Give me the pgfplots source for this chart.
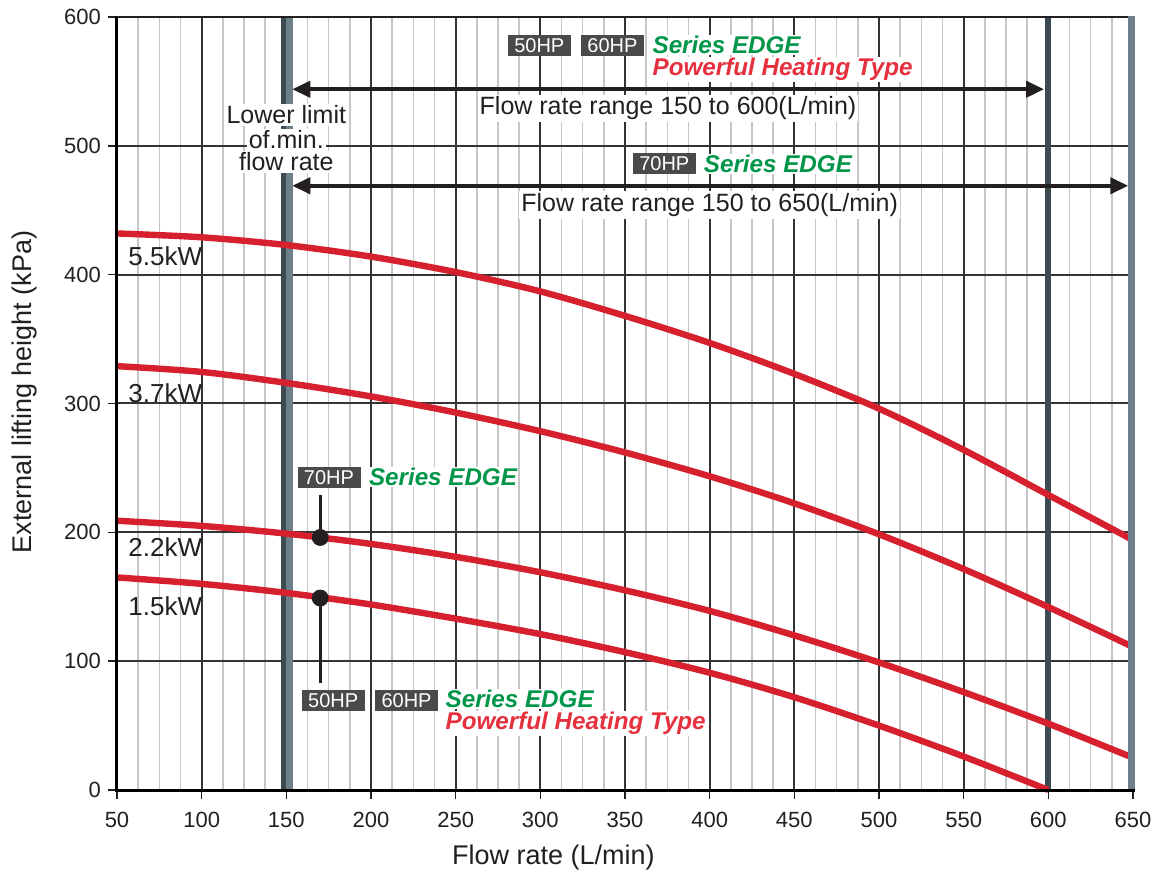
\documentclass[border=0pt]{standalone}
\usepackage{fontspec}
\setmainfont{Liberation Sans}
\usepackage{pgfplots}
\pgfplotsset{compat=1.18}
\usetikzlibrary{arrows.meta}

\definecolor{curvered}{HTML}{D6202E}
\definecolor{textred}{HTML}{E5303D}
\definecolor{edgegreen}{HTML}{00964A}
\definecolor{hpgray}{HTML}{4A4A4C}
\definecolor{slate}{HTML}{6D7F89}
\definecolor{darkslate}{HTML}{3C4A51}
\definecolor{gridmaj}{HTML}{333333}
\definecolor{gridmin}{HTML}{C6C6C6}
\definecolor{ink}{HTML}{231F20}

\tikzset{
  hpbox/.style={fill=hpgray, text=white, font=\fontsize{10}{11}\selectfont,
    minimum width=31.5pt, minimum height=10.5pt, inner sep=0pt},
  edge/.style={text=edgegreen, font=\fontsize{12.1}{13}\selectfont\bfseries\itshape,
    inner sep=0.5pt, fill=white, anchor=west},
  heat/.style={text=textred, font=\fontsize{12.1}{13}\selectfont\bfseries\itshape,
    inner sep=0.5pt, fill=white, anchor=west},
  note/.style={text=ink, font=\fontsize{12.5}{14}\selectfont, inner sep=1pt, fill=white},
  kw/.style={text=ink, font=\fontsize{13}{15}\selectfont, anchor=west, inner sep=0pt},
}

\begin{document}
\begin{tikzpicture}
\begin{axis}[
    scale only axis,
    width=508pt, height=386.5pt,
    xmin=50, xmax=650, ymin=0, ymax=600,
    xtick={50,100,150,200,250,300,350,400,450,500,550,600,650},
    ytick={0,100,200,300,400,500,600},
    minor xtick={62.5,75,87.5,112.5,125,137.5,162.5,175,187.5,212.5,225,237.5,
      262.5,275,287.5,312.5,325,337.5,362.5,375,387.5,412.5,425,437.5,
      462.5,475,487.5,512.5,525,537.5,562.5,575,587.5,612.5,625,637.5},
    xmajorgrids, xminorgrids, ymajorgrids,
    major grid style={draw=gridmaj, line width=1pt},
    minor grid style={draw=gridmin, line width=0.75pt},
    axis line style={draw=none},
    tick align=outside,
    xtick pos=left, ytick pos=left,
    major tick length=4.5pt, minor tick length=0pt,
    tick style={draw=ink, line width=0.7pt},
    ticklabel style={text=ink, font=\fontsize{11}{13}\selectfont},
    xticklabel style={yshift=-3pt},
    /pgf/number format/assume math mode=true,
    xlabel={Flow rate (L/min)},
    ylabel={External lifting height (kPa)},
    label style={text=ink, font=\fontsize{13.5}{15}\selectfont},
    xlabel style={at={(axis description cs:0.4296,-0.0867)}, anchor=center},
    ylabel style={at={(axis description cs:-0.0906,0.515)}, anchor=center},
    clip=false,
]
\coordinate (sw) at (rel axis cs:0,0);
\coordinate (ne) at (rel axis cs:1,1);

% limit lines
\addplot[darkslate, line width=2.5pt] coordinates {(148.3,0) (148.3,600)};
\addplot[slate, line width=3.5pt] coordinates {(152,0) (152,600)};
\addplot[darkslate, line width=3.2pt] coordinates {(599.7,0) (599.7,600)};

% pump curves
\addplot[curvered, line width=3.2pt, smooth] coordinates {
  (50,432) (100,429) (150,423) (200,414) (250,402) (300,387) (350,368)
  (400,347) (450,323) (500,296) (550,264) (600,229) (650,194)};
\addplot[curvered, line width=3.2pt, smooth] coordinates {
  (50,329) (100,324.5) (150,316) (200,305.5) (250,293) (300,278.5) (350,262)
  (400,243.5) (450,222.5) (500,198.5) (550,171.5) (600,142) (650,111)};
\addplot[curvered, line width=3.2pt, smooth] coordinates {
  (50,209) (100,205) (150,199) (200,191) (250,181) (300,169) (350,155)
  (400,139) (450,120) (500,99) (550,76) (600,51.5) (650,25)};
\addplot[curvered, line width=3.2pt, smooth] coordinates {
  (50,165) (100,160) (150,153) (200,144) (250,133) (300,121) (350,107)
  (400,91) (450,72) (500,50) (550,26) (600,0)};

\addplot[slate, line width=3.7pt] coordinates {(649,0) (649,601)};

% frame
\draw[ink, line width=1.2pt] (rel axis cs:0,1) -- (axis cs:647,600);
\draw[black, line width=1.5pt] (rel axis cs:0,1) -- (rel axis cs:0,0) -- (axis cs:651,0);

% range arrows
\addplot[ink, line width=2pt, {Triangle[length=9pt,width=8pt]}-{Triangle[length=9pt,width=8pt]}]
  coordinates {(153.5,543.9) (597.5,543.9)};
\addplot[ink, line width=2pt, {Triangle[length=9pt,width=8pt]}-{Triangle[length=9pt,width=8pt]}]
  coordinates {(153.5,469) (647.2,469)};

% operating points
\addplot[ink, line width=1.6pt] coordinates {(170,229) (170,196)};
\addplot[ink, line width=1.6pt] coordinates {(170,149) (170,83)};
\addplot[ink, only marks, mark=*, mark size=4pt] coordinates {(170,196) (170,149)};

% top annotations
\node[hpbox] at (axis cs:299.4,577.9) {50HP};
\node[hpbox] at (axis cs:342.6,577.9) {60HP};
\node[edge] at (axis cs:365.5,578) {Series EDGE};
\node[heat] at (axis cs:365.5,559.4) {Powerful Heating Type};
\node[note] at (axis cs:375.4,529) {Flow rate range 150 to 600(L/min)};
\node[hpbox] at (axis cs:373.2,485.9) {70HP};
\node[edge] at (axis cs:395.8,486) {Series EDGE};
\node[note] at (axis cs:400,454) {Flow rate range 150 to 650(L/min)};

\node[note] at (axis cs:150,524) {Lower limit};
\node[note] at (axis cs:150,504.5) {of.min.};
\node[note] at (axis cs:150,487.5) {flow rate};

% lower annotations
\node[hpbox] at (axis cs:175.2,242.8) {70HP};
\node[edge] at (axis cs:198,243) {Series EDGE};
\node[hpbox] at (axis cs:177.7,69.2) {50HP};
\node[hpbox] at (axis cs:221,69.2) {60HP};
\node[edge] at (axis cs:243.3,70.5) {Series EDGE};
\node[heat] at (axis cs:243.3,51.5) {Powerful Heating Type};

% curve labels
\node[kw] at (axis cs:56.5,414) {5.5kW};
\node[kw] at (axis cs:56.5,308) {3.7kW};
\node[kw] at (axis cs:56.5,188.6) {2.2kW};
\node[kw] at (axis cs:56.5,142.8) {1.5kW};
\end{axis}
\pgfresetboundingbox
\path[use as bounding box] ([shift={(-58.5pt,-41pt)}]sw) rectangle ([shift={(11pt,8.5pt)}]ne);
\end{tikzpicture}
\end{document}
